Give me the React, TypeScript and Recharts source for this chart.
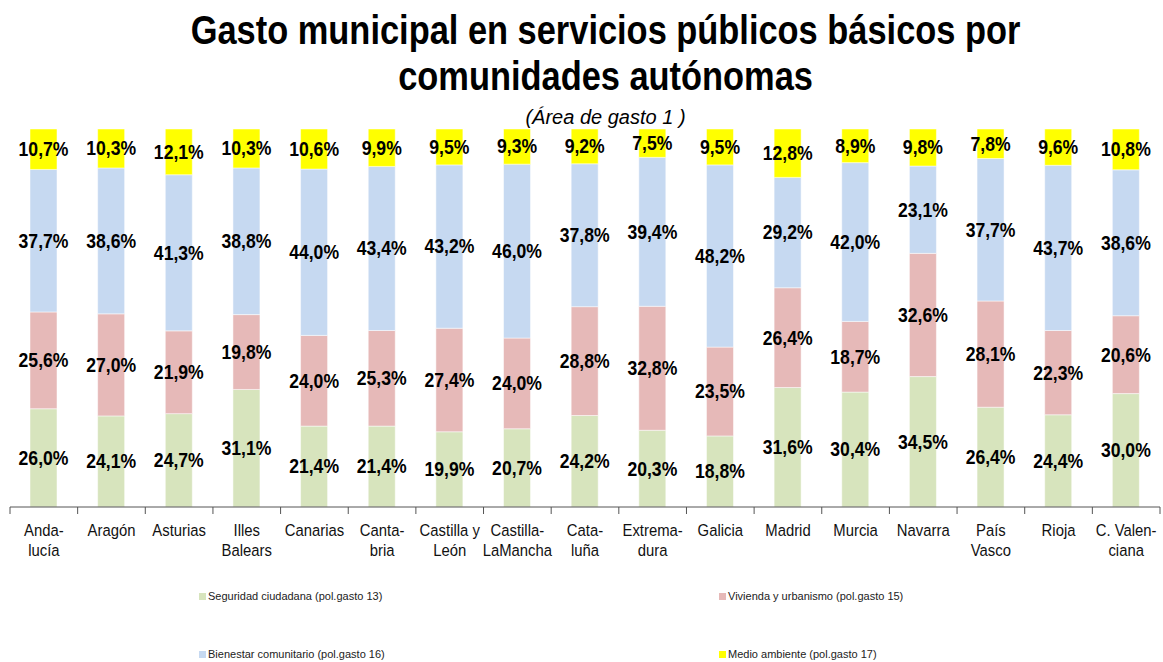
import React from 'react';
import { BarChart, Bar, XAxis, YAxis, LabelList } from 'recharts';

const regions = [
  'Anda-|lucía', 'Aragón', 'Asturias', 'Illes|Balears', 'Canarias', 'Canta-|bria', 'Castilla y|León',
  'Castilla-|LaMancha', 'Cata-|luña', 'Extrema-|dura', 'Galicia', 'Madrid', 'Murcia', 'Navarra',
  'País|Vasco', 'Rioja', 'C. Valen-|ciana',
];

const seguridad = [26.0, 24.1, 24.7, 31.1, 21.4, 21.4, 19.9, 20.7, 24.2, 20.3, 18.8, 31.6, 30.4, 34.5, 26.4, 24.4, 30.0];
const vivienda = [25.6, 27.0, 21.9, 19.8, 24.0, 25.3, 27.4, 24.0, 28.8, 32.8, 23.5, 26.4, 18.7, 32.6, 28.1, 22.3, 20.6];
const bienestar = [37.7, 38.6, 41.3, 38.8, 44.0, 43.4, 43.2, 46.0, 37.8, 39.4, 48.2, 29.2, 42.0, 23.1, 37.7, 43.7, 38.6];
const medio = [10.7, 10.3, 12.1, 10.3, 10.6, 9.9, 9.5, 9.3, 9.2, 7.5, 9.5, 12.8, 8.9, 9.8, 7.8, 9.6, 10.8];

const series = [
  { key: 'seg', name: 'Seguridad ciudadana (pol.gasto 13)', color: '#D7E4BD' },
  { key: 'viv', name: 'Vivienda y urbanismo (pol.gasto 15)', color: '#E6B9B8' },
  { key: 'bien', name: 'Bienestar comunitario (pol.gasto 16)', color: '#C6D9F1' },
  { key: 'med', name: 'Medio ambiente (pol.gasto 17)', color: '#FFFF00' },
];

const data = regions.map((r, i) => ({
  region: r,
  seg: seguridad[i],
  viv: vivienda[i],
  bien: bienestar[i],
  med: medio[i],
}));

const W = 1163;
const H = 662;
const LEFT = 10;
const RIGHT = 3;
const BAND = (W - LEFT - RIGHT) / regions.length;
const FONT = '"Liberation Sans", Arial, sans-serif';

const fmt = (v: any) => Number(v).toFixed(1).replace('.', ',') + '%';

// Arial Narrow look-alike: squeeze Liberation Sans horizontally
const ValueLabel = (props: any) => {
  const { x, y, width, height, value } = props;
  const cx = x + width / 2;
  const cy = y + height / 2;
  return (
    <text transform={`translate(${cx},${cy}) scale(0.88,1)`} textAnchor="middle" dominantBaseline="central"
      fontFamily={FONT} fontWeight="bold" fontSize={20} fill="#000">
      {fmt(value)}
    </text>
  );
};

const RegionTick = (props: any) => {
  const { x, y, payload, index } = props;
  const lines = String(payload.value).split('|');
  return (
    <g>
      <line x1={x - BAND / 2} x2={x - BAND / 2} y1={y - 8} y2={y - 1} stroke="#555" />
      {index === regions.length - 1 && (
        <line x1={x + BAND / 2} x2={x + BAND / 2} y1={y - 8} y2={y - 1} stroke="#555" />
      )}
      <g transform={`translate(${x},${y}) scale(0.9,1)`}>
        <text textAnchor="middle" fontFamily={FONT} fontSize={16.5} fill="#111">
          {lines.map((l, k) => (
            <tspan key={k} x={0} y={21 + k * 20}>{l}</tspan>
          ))}
        </text>
      </g>
    </g>
  );
};

const legendPos = [
  { left: 199, top: 590 },
  { left: 719, top: 590 },
  { left: 199, top: 648 },
  { left: 719, top: 648 },
];

export default function App() {
  return (
    <div style={{ position: 'absolute', left: 0, top: 0, width: W, height: H, background: '#fff', fontFamily: FONT }}>
      <div style={{ position: 'absolute', left: 0, width: W, top: 7, textAlign: 'center', fontWeight: 'bold', fontSize: 40, lineHeight: '46px', color: '#000', transform: 'scaleX(0.86)', transformOrigin: '606px 0' }}>
        <div style={{ position: 'relative', left: 24 }}>
          Gasto municipal en servicios públicos básicos por<br />comunidades autónomas
        </div>
      </div>
      <div style={{ position: 'absolute', left: 0, width: W, top: 107, textAlign: 'center', fontStyle: 'italic', fontSize: 20, lineHeight: '20px', color: '#000' }}>
        <div style={{ position: 'relative', left: 24 }}>(Área de gasto 1 )</div>
      </div>
      <div style={{ position: 'absolute', left: 0, top: 0 }}>
        <BarChart width={W} height={H} data={data} margin={{ top: 129, right: RIGHT, bottom: 0, left: LEFT }} barSize={27}>
          <XAxis dataKey="region" interval={0} tickLine={false} axisLine={{ stroke: '#555' }} tick={<RegionTick />} height={155} />
          <YAxis hide domain={[0, 100]} />
          {series.map((s) => (
            <Bar key={s.key} dataKey={s.key} name={s.name} stackId="a" fill={s.color} stroke="#fff" strokeWidth={0.5} isAnimationActive={false}>
              <LabelList dataKey={s.key} content={<ValueLabel />} />
            </Bar>
          ))}
        </BarChart>
      </div>
      {series.map((s, i) => (
        <div key={s.key} style={{ position: 'absolute', left: legendPos[i].left, top: legendPos[i].top, fontSize: 11, color: '#222', display: 'flex', alignItems: 'center' }}>
          <span style={{ display: 'inline-block', width: 7, height: 7, background: s.color, marginRight: 2 }} />
          {s.name}
        </div>
      ))}
    </div>
  );
}
